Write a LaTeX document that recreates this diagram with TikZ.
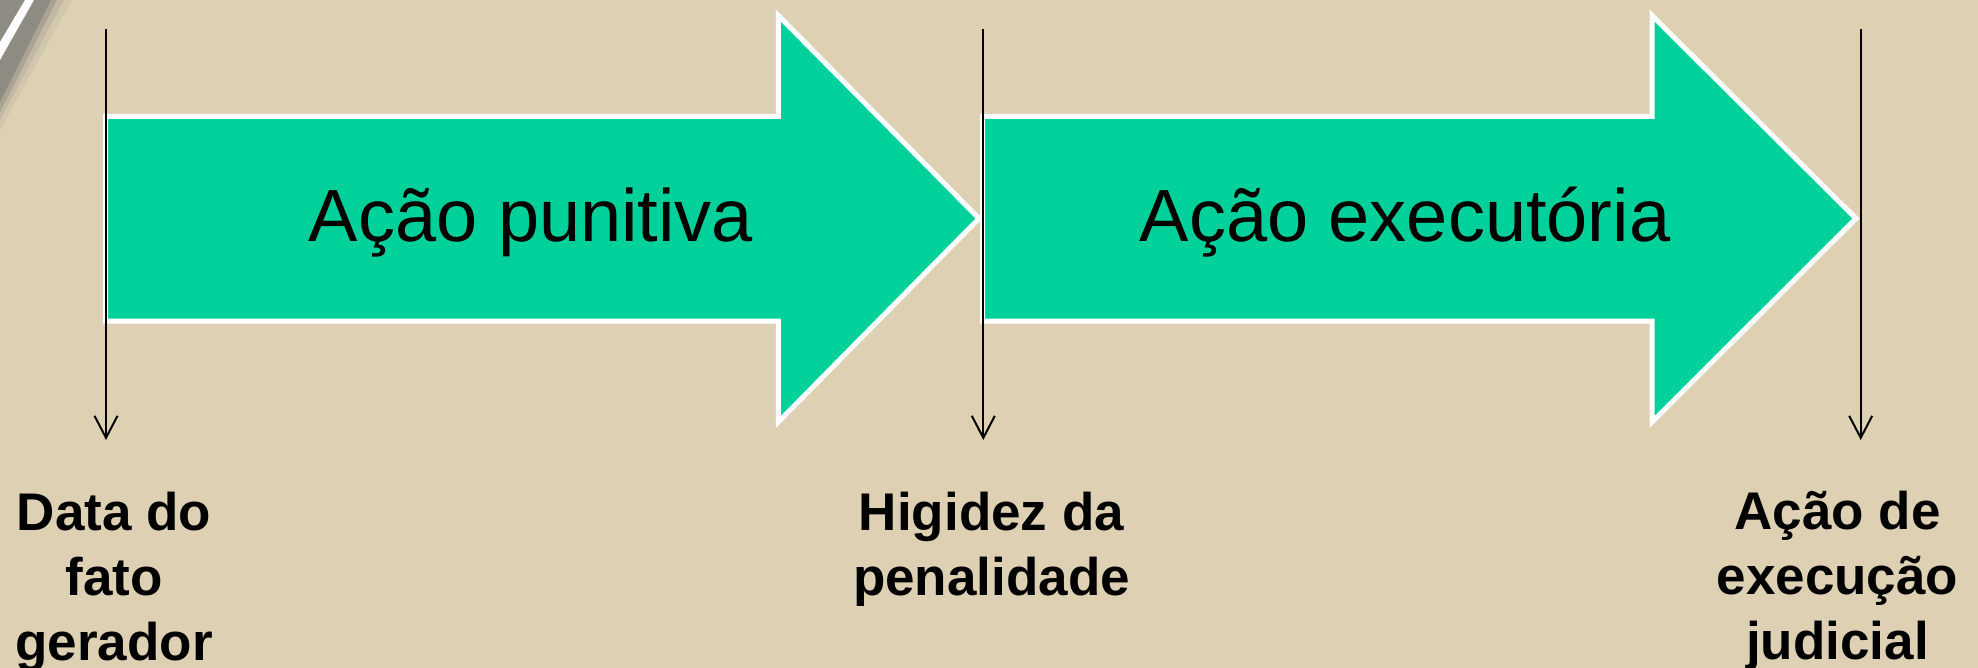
\documentclass[tikz,border=0pt]{standalone}
\usepackage{fontspec}
\setmainfont{Liberation Sans}
\usetikzlibrary{arrows.meta}
\definecolor{paper}{HTML}{DED1B3}
\definecolor{mint}{HTML}{00D19B}
\definecolor{streak}{HTML}{8E8B82}
\tikzset{
  bigarrow/.style={fill=mint,draw=white,line width=5pt,miter limit=10,line join=miter},
  marker/.style={draw=black,line width=2pt,-{Straight Barb[length=22pt,width=23pt,line width=2pt]}},
  title/.style={font=\fontsize{74}{80}\selectfont,text=black,inner sep=0pt,anchor=base},
  caption/.style={font=\fontsize{53}{65}\bfseries\selectfont,text=black,inner sep=0pt,align=center,anchor=north}
}
\begin{document}
\begin{tikzpicture}[x=1pt,y=-1pt]
\useasboundingbox (0,0) rectangle (1978,668);
\clip (0,0) rectangle (1978,668);
\fill[paper] (0,0) rectangle (1978,668);
% worn corner of the backdrop
\fill[paper!85!streak] (0,0) -- (72,0) -- (0,130) -- cycle;
\fill[paper!65!streak] (0,0) -- (64,0) -- (0,120) -- cycle;
\fill[paper!35!streak] (0,0) -- (57,0) -- (0,112) -- cycle;
\fill[streak] (0,0) -- (51,0) -- (0,102) -- cycle;
\fill[white] (25,0) -- (34,0) -- (0,60) -- (0,42) -- cycle;

\draw[bigarrow] (105.5,116.5) -- (778.3,116.5) -- (778.3,15.5) -- (979,218.5) -- (778.3,422) -- (778.3,321) -- (105.5,321) -- cycle;
\draw[bigarrow] (982.5,116.5) -- (1652,116.5) -- (1652,15.5) -- (1856,218.5) -- (1652,422) -- (1652,321) -- (982.5,321) -- cycle;

\node[title] (punitiva) at (531,242) {Ação punitiva};
\node[title] (executoria) at (1405,242) {Ação executória};

\coordinate (top1) at (106,29);
\coordinate (end1) at (106,440);
\coordinate (top2) at (983.3,29);
\coordinate (end2) at (983.3,440);
\coordinate (top3) at (1860.7,29);
\coordinate (end3) at (1860.7,440);
\draw[marker] (top1) -- (end1);
\draw[marker] (top2) -- (end2);
\draw[marker] (top3) -- (end3);

\node[caption] (fato) at (114,491.5) {Data do\\fato\\gerador};
\node[caption] (higidez) at (991.5,491.5) {Higidez da\\penalidade};
\node[caption] (execucao) at (1837.5,490.5) {Ação de\\execução\\judicial};
\end{tikzpicture}
\end{document}
